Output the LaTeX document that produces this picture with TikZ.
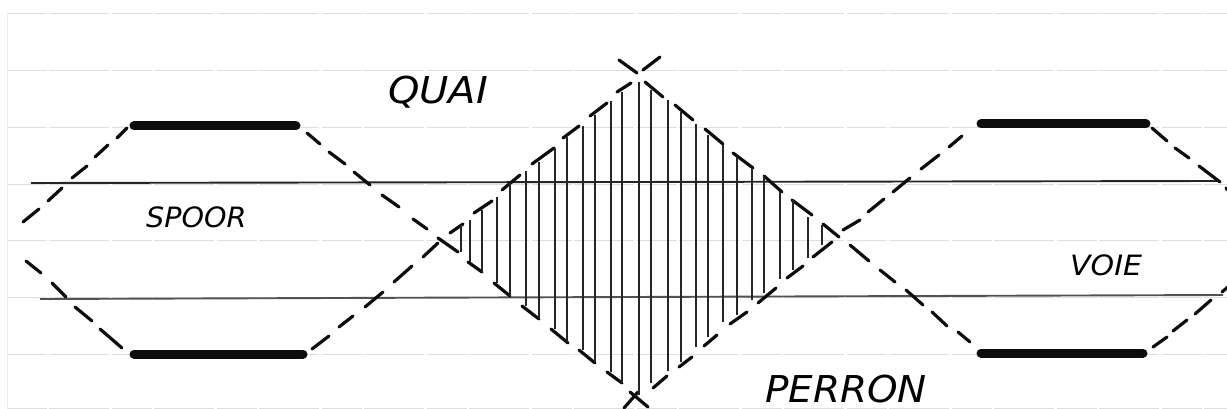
\documentclass[tikz,border=0pt]{standalone}
\usepackage{fontspec}
\setmainfont{DejaVu Sans}
\newfontface\quaiface[FakeStretch=1.08]{DejaVu Sans Oblique}
\newfontface\perronface[FakeStretch=1.05]{DejaVu Sans Oblique}
\newfontface\spoorface[FakeStretch=1.02]{DejaVu Sans Oblique}
\newfontface\voieface[FakeStretch=1.07]{DejaVu Sans Oblique}
\begin{document}
\begin{tikzpicture}[x=1pt,y=-1pt,
  ruled/.style={draw=black!13,line width=0.8pt,dash pattern=on 40pt off 2pt on 60pt off 3pt},
  track/.style={draw=black!85,line width=1.9pt},
  dashpiece/.style={draw=black!95,line width=3.2pt,line cap=round},
  hatch/.style={draw=black!85,line width=1.9pt},
  platform/.style={draw=black!95,line width=9pt,line cap=round},
  label/.style={inner sep=0pt,anchor=base west}]
\useasboundingbox (0,0) rectangle (1227,409);
\fill[white] (0,0) rectangle (1227,409);
% ruled paper
\foreach \yy in {13,70,127,184,240,297,354,408}
  \draw[ruled] (7,\yy) -- (1227,\yy);
\draw[draw=black!8,line width=0.7pt] (7,13) -- (7,409);
% tracks
\draw[track] (31,183) -- (1220,181);
\draw[track,draw=black!68] (40,299) -- (1223,295);
% platforms
\draw[platform] (134,126) -- (296,126);
\draw[platform] (134,354) -- (303,354);
\draw[platform] (981,124) -- (1146,124);
\draw[platform] (981,353) -- (1143,353);
% dashes
\foreach \xa/\ya/\xb/\yb in {
  23/222/39/209, 48/201/62/188, 72/178/87/166, 95/157/108/145, 117/138/127/128,
  307/133/320/144, 329/152/345/164, 354/172/370/185, 382/195/399/207, 413/219/427/229,
  438/238/458/252, 450/233/463/224,
  26/261/41/273, 52/283/66/297, 75/307/92/321, 100/329/122/348,
  312/349/329/336, 339/327/353/316, 365/307/383/292, 394/282/412/266, 423/257/438/243,
  468/262/482/272, 474/213/492/201, 494/283/510/296, 502/190/520/175,
  522/306/539/319, 532/164/554/148, 551/329/568/343, 563/138/579/126,
  579/350/595/363, 590/116/607/103, 607/372/622/383, 617/92/631/83,
  619/60/637/73, 643/70/660/57, 630/392/648/407, 624/408/638/392,
  645/82/663/97, 653/388/667/376, 675/105/693/120, 679/367/692/357,
  705/129/723/144, 704/346/717/335, 733/153/753/168, 730/324/747/312,
  764/176/782/192, 758/303/776/288, 792/200/812/215, 787/278/803/266,
  823/224/839/237, 813/257/832/242,
  843/230/860/220, 868/212/884/199, 893/192/910/178, 921/169/939/155, 949/147/962/136,
  1152/128/1167/141, 1175/148/1189/158, 1199/166/1220/182, 1226/188/1230/192,
  850/245/869/261, 880/270/895/282, 906/290/923/305, 932/312/947/326, 958/332/970/342,
  1153/347/1167/337, 1173/331/1187/320, 1195/314/1211/300, 1222/292/1229/286}
  \draw[dashpiece] (\xa,\ya) -- (\xb,\yb);
% hatching
\foreach \xx/\ya/\yb in {
  461/225/252, 470/220/262, 482/210/272, 497/197/283, 510/183/296,
  526/171/306, 539/162/319, 555/148/329, 567/137/342, 583/126/350,
  595/115/362, 611/101/372, 622/92/383, 639/82/395,
  651/90/383, 668/100/371, 681/112/362, 696/124/347, 708/135/337,
  723/145/322, 737/158/315, 752/168/300, 764/176/293, 780/192/279,
  793/200/270, 808/217/258, 822/225/245}
  \draw[hatch] (\xx,\ya) -- (\xx,\yb);
% labels
\node[label,font=\quaiface\fontsize{37}{37}\selectfont] (quai) at (388,104) {QUAI};
\node[label,font=\perronface\fontsize{37}{37}\selectfont] (perron) at (765,402) {PERRON};
\node[label,font=\spoorface\fontsize{28}{28}\selectfont] (spoor) at (146,227) {SPOOR};
\node[label,font=\voieface\fontsize{28}{28}\selectfont] (voie) at (1070,275) {VOIE};
\end{tikzpicture}
\end{document}
